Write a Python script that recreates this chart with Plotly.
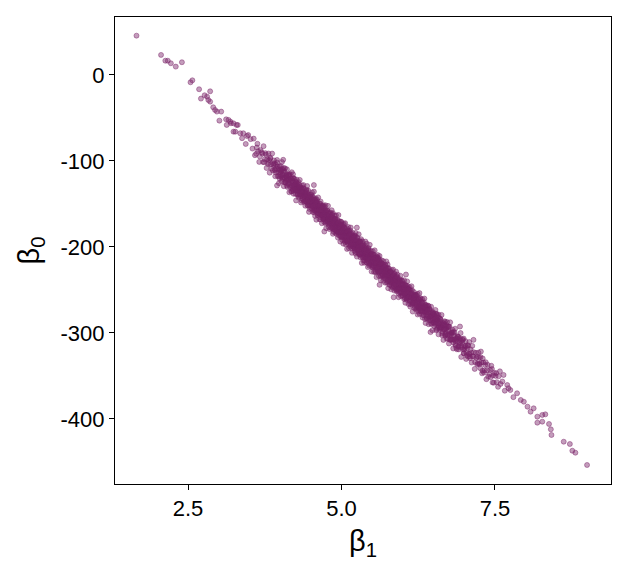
import plotly.graph_objects as go

# posterior draws (beta1 = slope, beta0 = intercept)
beta1 = [
    # upper tail
    1.66, 2.06, 2.13, 2.17, 2.22, 2.30, 2.40, 2.54, 2.57, 2.68, 2.71, 2.77, 2.81, 2.83, 2.86, 2.86, 2.91, 2.94, 2.97,
    3.01, 3.04, 3.12, 3.13, 3.16, 3.19, 3.20, 3.24, 3.24, 3.27, 3.29, 3.31, 3.35, 3.38, 3.40, 3.44, 3.46, 3.48,
    # body
    3.52, 3.55, 3.57, 3.59,
    3.61, 3.63, 3.64, 3.66, 3.68,
    3.70, 3.72, 3.73, 3.75, 3.76, 3.78, 3.79,
    3.80, 3.81, 3.82, 3.83, 3.84, 3.85, 3.87, 3.88, 3.89,
    3.90, 3.91, 3.92, 3.93, 3.94, 3.95, 3.96, 3.97, 3.98, 3.99,
    4.00, 4.01, 4.02, 4.02, 4.03, 4.04, 4.05, 4.06, 4.07, 4.07, 4.08, 4.09,
    4.10, 4.11, 4.11, 4.12, 4.13, 4.14, 4.15, 4.15, 4.16, 4.17, 4.18, 4.19, 4.19,
    4.20, 4.21, 4.21, 4.22, 4.23, 4.23, 4.24, 4.25, 4.26, 4.26, 4.27, 4.28, 4.28, 4.29,
    4.30, 4.30, 4.31, 4.32, 4.32, 4.33, 4.34, 4.34, 4.35, 4.36, 4.36, 4.37, 4.38, 4.39, 4.39,
    4.40, 4.41, 4.41, 4.42, 4.43, 4.43, 4.44, 4.45, 4.45, 4.46, 4.46, 4.47, 4.48, 4.48, 4.49, 4.49,
    4.50, 4.50, 4.51, 4.52, 4.52, 4.53, 4.53, 4.54, 4.55, 4.55, 4.56, 4.57, 4.57, 4.58, 4.58, 4.59, 4.59,
    4.60, 4.60, 4.61, 4.61, 4.62, 4.63, 4.63, 4.64, 4.64, 4.65, 4.66, 4.66, 4.67, 4.67, 4.68, 4.68, 4.69, 4.69,
    4.70, 4.70, 4.71, 4.71, 4.72, 4.73, 4.73, 4.74, 4.74, 4.75, 4.75, 4.76, 4.77, 4.77, 4.78, 4.78, 4.79, 4.79,
    4.80, 4.80, 4.81, 4.81, 4.82, 4.82, 4.83, 4.84, 4.84, 4.85, 4.85, 4.86, 4.86, 4.87, 4.87, 4.88, 4.88, 4.89, 4.89,
    4.90, 4.90, 4.91, 4.91, 4.92, 4.93, 4.93, 4.94, 4.94, 4.95, 4.95, 4.96, 4.96, 4.97, 4.97, 4.98, 4.98, 4.99, 4.99,
    5.00, 5.00, 5.01, 5.01, 5.02, 5.02, 5.03, 5.03, 5.04, 5.04, 5.05, 5.05, 5.06, 5.06, 5.07, 5.07, 5.08, 5.08, 5.09, 5.09,
    5.10, 5.10, 5.11, 5.11, 5.12, 5.12, 5.13, 5.13, 5.14, 5.14, 5.15, 5.15, 5.16, 5.16, 5.17, 5.17, 5.18, 5.18, 5.19, 5.19,
    5.20, 5.20, 5.21, 5.21, 5.22, 5.22, 5.23, 5.23, 5.24, 5.24, 5.25, 5.25, 5.26, 5.26, 5.27, 5.27, 5.28, 5.28, 5.29, 5.29,
    5.30, 5.30, 5.31, 5.31, 5.32, 5.32, 5.33, 5.33, 5.34, 5.34, 5.35, 5.35, 5.36, 5.36, 5.37, 5.37, 5.38, 5.38, 5.39, 5.39,
    5.40, 5.40, 5.41, 5.41, 5.42, 5.42, 5.43, 5.43, 5.44, 5.44, 5.45, 5.45, 5.46, 5.46, 5.47, 5.47, 5.48, 5.48, 5.49, 5.49,
    5.50, 5.50, 5.51, 5.51, 5.52, 5.52, 5.53, 5.53, 5.54, 5.54, 5.55, 5.55, 5.56, 5.56, 5.57, 5.57, 5.58, 5.58, 5.59, 5.59,
    5.60, 5.60, 5.61, 5.61, 5.62, 5.62, 5.63, 5.63, 5.64, 5.64, 5.65, 5.65, 5.66, 5.66, 5.67, 5.67, 5.68, 5.68, 5.69,
    5.70, 5.70, 5.71, 5.71, 5.72, 5.72, 5.73, 5.73, 5.74, 5.74, 5.75, 5.75, 5.76, 5.76, 5.77, 5.77, 5.78, 5.78, 5.79,
    5.80, 5.80, 5.81, 5.81, 5.82, 5.83, 5.83, 5.84, 5.84, 5.85, 5.85, 5.86, 5.86, 5.87, 5.87, 5.88, 5.89, 5.89,
    5.90, 5.90, 5.91, 5.92, 5.92, 5.93, 5.93, 5.94, 5.95, 5.95, 5.96, 5.96, 5.97, 5.98, 5.98, 5.99, 5.99,
    6.00, 6.00, 6.01, 6.02, 6.02, 6.03, 6.03, 6.04, 6.05, 6.05, 6.06, 6.06, 6.07, 6.08, 6.08, 6.09, 6.09,
    6.10, 6.11, 6.11, 6.12, 6.13, 6.13, 6.14, 6.14, 6.15, 6.16, 6.16, 6.17, 6.18, 6.18, 6.19, 6.19,
    6.20, 6.21, 6.21, 6.22, 6.23, 6.24, 6.24, 6.25, 6.25, 6.26, 6.27, 6.27, 6.28, 6.29, 6.29,
    6.30, 6.31, 6.32, 6.32, 6.33, 6.34, 6.35, 6.35, 6.36, 6.37, 6.37, 6.38, 6.39, 6.39,
    6.40, 6.41, 6.42, 6.42, 6.43, 6.44, 6.45, 6.46, 6.46, 6.47, 6.48, 6.49, 6.49,
    6.50, 6.51, 6.52, 6.53, 6.53, 6.54, 6.55, 6.56, 6.57, 6.58, 6.58, 6.59,
    6.60, 6.61, 6.62, 6.63, 6.64, 6.65, 6.66, 6.67, 6.68, 6.69, 6.69,
    6.70, 6.71, 6.72, 6.73, 6.74, 6.75, 6.76, 6.77, 6.78, 6.79,
    6.80, 6.81, 6.82, 6.83, 6.85, 6.86, 6.87, 6.88, 6.89,
    6.90, 6.91, 6.93, 6.94, 6.95, 6.97, 6.98, 6.99,
    7.00, 7.02, 7.03, 7.05, 7.06, 7.08, 7.09,
    7.10, 7.12, 7.13, 7.15, 7.17, 7.19,
    7.21, 7.23, 7.25, 7.27, 7.29,
    7.30, 7.32, 7.34, 7.36, 7.38,
    7.41, 7.44, 7.46, 7.49,
    7.52, 7.55, 7.58,
    # lower tail
    7.64, 7.70, 7.75, 7.86, 7.92, 7.97, 8.03, 8.08, 8.13, 8.19, 8.27, 8.32, 8.19, 8.27, 8.38, 8.41, 8.42,
    8.62, 8.72, 8.76, 8.81, 9.00,
    # strays at the band edges
    3.95, 4.05, 4.55, 4.72, 5.25, 5.62, 5.85, 6.05, 6.45, 6.93, 7.15,
]

beta0 = [
    # upper tail
    45.7, 23.3, 16.6, 16.6, 13.6, 9.7, 14.8, -8.5, -6.2, -16.6, -27.5, -23.6, -25.2, -29.1, -19.0, -31.0, -37.6, -40.7, -42.6,
    -53.1, -42.6, -51.6, -58.1, -52.3, -54.3, -56.2, -56.2, -65.9, -65.9, -58.1, -58.1, -67.8, -73.5, -67.8, -80.2, -71.0, -69.8,
    # body
    -74.6, -85.6, -74.0, -93.3,
    -91.7, -80.0, -88.7, -101.1, -87.4,
    -89.8, -101.2, -82.8, -98.2, -90.9, -108.2, -97.9,
    -103.6, -91.3, -99.0, -113.6, -97.3, -104.0, -91.4, -111.0, -102.7,
    -99.4, -110.1, -117.8, -104.4, -109.1, -98.8, -117.5, -109.2, -125.8, -106.5,
    -115.2, -105.9, -123.6, -111.6, -101.2, -120.9, -115.6, -129.3, -112.0, -119.0, -108.6, -125.3,
    -116.0, -128.7, -109.7, -121.4, -126.0, -115.7, -136.4, -121.4, -115.1, -127.8, -120.4, -135.1, -113.1,
    -132.8, -124.5, -115.5, -138.2, -127.8, -120.8, -132.5, -124.2, -145.9, -130.9, -121.6, -139.2, -128.2, -133.9,
    -131.6, -142.6, -127.3, -139.0, -122.0, -135.6, -148.3, -131.3, -139.0, -128.7, -143.7, -135.4, -128.0, -147.7, -138.7,
    -143.4, -135.1, -152.1, -140.8, -133.4, -147.4, -129.1, -144.8, -151.8, -140.5, -134.5, -159.2, -143.8, -151.8, -139.5, -148.5,
    -142.2, -154.2, -147.9, -136.6, -152.6, -141.2, -159.2, -146.9, -151.6, -135.6, -157.3, -146.0, -164.0, -151.6, -143.6, -156.3, -168.3,
    -155.0, -145.0, -162.7, -150.7, -142.4, -161.0, -154.0, -167.7, -149.7, -157.4, -161.1, -147.1, -165.8, -153.8, -158.4, -172.4, -152.1, -164.1,
    -154.8, -166.8, -161.5, -151.5, -171.2, -159.8, -164.8, -151.5, -170.5, -159.2, -178.2, -163.9, -157.6, -169.6, -167.2, -152.2, -176.9, -163.9,
    -171.6, -160.6, -166.3, -179.3, -160.0, -171.0, -165.6, -178.3, -157.3, -171.0, -176.0, -160.7, -184.7, -169.4, -179.4, -167.0, -174.0, -163.7, -176.7,
    -171.4, -183.4, -163.1, -176.1, -181.8, -168.4, -175.4, -189.1, -172.1, -181.8, -162.8, -176.5, -186.5, -170.2, -183.2, -193.8, -173.8, -180.5, -187.5,
    -183.2, -171.2, -191.9, -177.9, -175.6, -187.6, -183.2, -196.2, -172.9, -184.9, -181.6, -192.6, -172.3, -189.3, -180.0, -197.0, -184.6, -192.6, -178.3, -202.3,
    -183.0, -195.0, -187.7, -176.7, -192.4, -201.4, -182.0, -191.0, -186.7, -199.7, -177.4, -196.4, -192.1, -185.1, -206.8, -189.8, -199.4, -183.4, -196.1, -188.1,
    -200.8, -191.8, -186.5, -204.5, -187.2, -200.2, -183.8, -207.8, -198.5, -191.5, -196.2, -211.2, -188.9, -201.9, -195.6, -206.6, -185.2, -200.2, -208.9, -193.9,
    -193.6, -203.6, -212.3, -197.3, -191.0, -209.0, -203.6, -218.6, -201.3, -193.3, -212.0, -203.0, -209.7, -196.7, -218.4, -200.4, -206.0, -216.0, -193.7, -210.7,
    -209.4, -201.4, -218.1, -196.1, -205.8, -214.8, -223.4, -208.4, -201.1, -214.1, -205.8, -221.8, -211.5, -197.5, -219.7, -209.7, -217.8, -204.8, -228.5, -214.5,
    -211.2, -223.2, -204.9, -215.9, -222.6, -208.6, -219.2, -229.2, -203.9, -214.9, -223.6, -212.6, -229.3, -218.3, -211.0, -235.0, -215.6, -223.6, -209.3, -228.3,
    -225.0, -213.0, -220.7, -233.7, -210.4, -228.4, -217.4, -224.4, -238.7, -220.7, -215.4, -233.4, -226.1, -219.1, -232.8, -223.8, -239.4, -216.4, -230.1,
    -222.8, -232.8, -241.5, -227.5, -222.2, -237.2, -216.8, -231.8, -228.5, -241.5, -234.2, -220.2, -247.9, -227.9, -233.6, -224.6, -240.2, -233.2, -243.9,
    -240.6, -228.6, -235.3, -249.3, -227.0, -239.6, -233.6, -247.3, -226.3, -239.0, -245.0, -231.7, -250.7, -237.4, -243.4, -235.0, -249.7, -228.7,
    -240.4, -251.4, -232.1, -247.8, -237.8, -258.4, -244.4, -237.1, -252.8, -242.8, -233.5, -248.5, -257.2, -242.8, -252.8, -239.5, -249.5,
    -256.2, -244.2, -249.9, -238.6, -260.6, -248.2, -255.2, -264.9, -244.6, -253.6, -247.3, -261.3, -240.0, -257.6, -252.6, -266.3, -248.3,
    -252.0, -262.7, -246.7, -269.4, -257.0, -251.0, -261.7, -245.7, -267.4, -260.1, -275.1, -255.8, -252.4, -265.4, -260.1, -271.1,
    -263.8, -255.5, -272.5, -261.2, -269.8, -254.5, -278.5, -264.2, -269.2, -260.9, -277.6, -253.6, -268.2, -274.9, -259.9,
    -263.6, -274.3, -261.0, -282.0, -270.6, -279.3, -260.0, -275.0, -269.7, -288.4, -267.4, -276.0, -283.7, -272.7,
    -279.4, -268.1, -289.8, -276.4, -272.1, -285.1, -279.8, -269.5, -289.5, -277.2, -296.8, -275.5, -284.5,
    -278.2, -291.9, -283.6, -273.2, -290.2, -296.9, -277.9, -288.3, -285.0, -301.6, -278.6, -293.3,
    -296.0, -283.7, -293.4, -279.0, -302.7, -290.4, -308.1, -288.8, -295.4, -287.1, -303.1,
    -294.8, -306.5, -287.2, -302.8, -292.5, -312.2, -300.9, -287.6, -308.2, -298.9,
    -307.6, -296.3, -318.0, -302.6, -295.0, -314.7, -307.4, -319.0, -303.7,
    -304.4, -319.1, -312.4, -300.1, -327.8, -311.2, -318.8, -306.5,
    -319.2, -309.6, -330.2, -317.6, -327.3, -310.6, -327.3,
    -319.0, -334.4, -315.0, -327.4, -341.8, -323.1,
    -336.5, -322.8, -335.2, -321.6, -346.9,
    -329.6, -346.0, -337.3, -353.7, -337.0,
    -348.1, -338.1, -357.5, -346.5,
    -346.6, -362.6, -344.6,
    # lower tail
    -348.8, -360.5, -366.3, -370.1, -377.9, -379.9, -385.7, -391.5, -387.6, -397.3, -395.3, -394.6, -404.3, -403.1, -405.8, -412.0, -418.6,
    -426.4, -429.1, -436.9, -439.2, -453.5,
    # strays at the band edges
    -128.5, -98.6, -128.0, -182.0, -177.5, -244.0, -258.5, -232.0, -299.0, -292.5, -308.0,
]

# further draws in the dense core of the band
beta1_core = [
    3.91, 3.93, 3.95, 3.97, 3.99,
    4.00, 4.01, 4.03, 4.04, 4.06, 4.07, 4.09,
    4.10, 4.11, 4.12, 4.14, 4.15, 4.16, 4.18, 4.19,
    4.20, 4.21, 4.22, 4.23, 4.25, 4.26, 4.27, 4.28, 4.29,
    4.30, 4.31, 4.32, 4.33, 4.34, 4.35, 4.36, 4.37, 4.38, 4.39,
    4.40, 4.41, 4.42, 4.43, 4.44, 4.45, 4.45, 4.46, 4.47, 4.48, 4.49,
    4.50, 4.51, 4.52, 4.53, 4.53, 4.54, 4.55, 4.56, 4.57, 4.57, 4.58, 4.59,
    4.60, 4.61, 4.61, 4.62, 4.63, 4.64, 4.65, 4.66, 4.67, 4.68, 4.68, 4.69,
    4.70, 4.71, 4.72, 4.72, 4.73, 4.74, 4.75, 4.75, 4.76, 4.77, 4.78, 4.79, 4.79,
    4.80, 4.81, 4.82, 4.82, 4.83, 4.84, 4.85, 4.85, 4.86, 4.87, 4.88, 4.89, 4.89,
    4.90, 4.91, 4.92, 4.92, 4.93, 4.94, 4.95, 4.95, 4.96, 4.97, 4.98, 4.99, 4.99,
    5.00, 5.01, 5.01, 5.02, 5.03, 5.03, 5.04, 5.05, 5.06, 5.06, 5.07, 5.08, 5.09, 5.09,
    5.10, 5.11, 5.11, 5.12, 5.13, 5.13, 5.14, 5.15, 5.16, 5.16, 5.17, 5.18, 5.19, 5.19,
    5.20, 5.21, 5.21, 5.22, 5.23, 5.23, 5.24, 5.25, 5.26, 5.26, 5.27, 5.28, 5.29, 5.29,
    5.30, 5.31, 5.31, 5.32, 5.33, 5.33, 5.34, 5.35, 5.36, 5.36, 5.37, 5.38, 5.39, 5.39,
    5.40, 5.41, 5.41, 5.42, 5.43, 5.43, 5.44, 5.45, 5.46, 5.46, 5.47, 5.48, 5.49, 5.49,
    5.50, 5.51, 5.51, 5.52, 5.53, 5.53, 5.54, 5.55, 5.56, 5.56, 5.57, 5.58, 5.59, 5.59,
    5.60, 5.61, 5.61, 5.62, 5.63, 5.64, 5.65, 5.65, 5.66, 5.67, 5.68, 5.69, 5.69,
    5.70, 5.71, 5.71, 5.72, 5.73, 5.74, 5.75, 5.75, 5.76, 5.77, 5.78, 5.79, 5.79,
    5.80, 5.81, 5.81, 5.82, 5.83, 5.84, 5.85, 5.85, 5.86, 5.87, 5.88, 5.89, 5.89,
    5.90, 5.91, 5.92, 5.93, 5.93, 5.94, 5.95, 5.96, 5.97, 5.98, 5.98, 5.99,
    6.00, 6.01, 6.02, 6.03, 6.03, 6.04, 6.05, 6.06, 6.07, 6.08, 6.08, 6.09,
    6.10, 6.11, 6.12, 6.13, 6.14, 6.15, 6.15, 6.16, 6.17, 6.18, 6.19,
    6.20, 6.21, 6.22, 6.23, 6.24, 6.25, 6.25, 6.26, 6.27, 6.28, 6.29,
    6.30, 6.31, 6.32, 6.33, 6.34, 6.35, 6.36, 6.37, 6.38, 6.39,
    6.40, 6.41, 6.42, 6.44, 6.45, 6.46, 6.47, 6.48, 6.49,
    6.50, 6.51, 6.53, 6.54, 6.55, 6.56, 6.57, 6.58, 6.59,
    6.60, 6.61, 6.63, 6.64, 6.65, 6.67, 6.68, 6.69,
    6.70, 6.72, 6.73, 6.75, 6.76, 6.78, 6.79,
    6.80, 6.82, 6.84, 6.85, 6.87, 6.89,
    6.91, 6.93, 6.95, 6.97, 6.99,
    7.01, 7.04, 7.06, 7.08,
]

beta0_core = [
    -103.1, -113.4, -101.8, -113.2, -120.5,
    -110.2, -117.9, -109.2, -116.9, -108.3, -125.0, -117.3,
    -123.0, -115.7, -130.4, -121.7, -116.4, -130.1, -135.4, -126.1,
    -122.8, -132.5, -120.2, -130.8, -138.2, -127.9, -135.6, -126.2, -133.9,
    -124.6, -141.3, -133.0, -138.6, -131.3, -146.0, -136.7, -131.4, -145.0, -139.7,
    -140.4, -137.1, -146.8, -134.4, -145.1, -151.8, -140.8, -148.5, -139.2, -155.8, -144.5,
    -148.2, -138.9, -155.6, -147.2, -152.2, -144.9, -159.6, -150.3, -145.0, -158.0, -148.6, -157.3,
    -148.0, -156.7, -162.7, -152.4, -156.0, -161.7, -149.4, -168.1, -154.8, -162.4, -152.4, -161.1,
    -158.8, -167.5, -153.2, -165.2, -157.8, -172.5, -163.2, -158.2, -168.9, -157.6, -167.2, -173.9, -163.9,
    -172.6, -164.3, -170.0, -162.0, -177.6, -168.3, -162.0, -174.0, -166.7, -182.4, -173.0, -167.7, -179.7,
    -167.4, -178.1, -174.8, -184.8, -172.4, -183.1, -169.8, -178.8, -182.5, -174.2, -187.8, -178.5, -170.5,
    -181.2, -175.9, -188.9, -179.6, -186.2, -174.2, -188.9, -183.6, -178.3, -194.3, -182.0, -188.6, -193.3, -182.3,
    -192.0, -180.7, -187.7, -197.4, -185.0, -191.0, -180.7, -197.4, -189.1, -195.1, -201.8, -187.4, -194.1, -187.1,
    -191.8, -201.5, -188.5, -196.2, -205.8, -192.8, -199.5, -189.2, -203.9, -196.9, -193.6, -207.2, -199.9, -203.9,
    -208.6, -200.3, -193.3, -207.0, -198.6, -204.6, -212.3, -199.0, -205.7, -215.7, -203.4, -199.0, -212.7, -203.7,
    -203.4, -212.1, -218.1, -202.8, -209.4, -216.4, -202.1, -213.8, -208.5, -220.5, -213.2, -207.8, -218.5, -212.5,
    -217.2, -209.9, -223.9, -213.6, -222.2, -209.2, -217.9, -228.6, -214.3, -222.3, -213.0, -226.6, -219.3, -212.3,
    -218.0, -229.7, -220.7, -215.4, -227.0, -233.7, -220.4, -225.4, -231.1, -219.8, -228.4, -225.1, -236.1,
    -234.8, -226.5, -220.5, -232.2, -224.8, -231.5, -240.2, -228.2, -224.9, -237.6, -244.2, -229.9, -235.9,
    -234.6, -241.3, -229.3, -246.0, -234.6, -232.3, -242.0, -246.0, -230.7, -240.4, -237.0, -247.7, -239.7,
    -245.4, -235.1, -249.8, -242.4, -254.4, -240.1, -246.8, -239.5, -252.2, -247.8, -238.8, -256.5,
    -243.2, -253.9, -247.6, -259.2, -243.2, -253.9, -248.6, -260.3, -253.0, -245.6, -259.6, -253.3,
    -258.0, -249.7, -266.4, -254.0, -258.7, -264.4, -250.4, -266.1, -257.8, -262.4, -256.1,
    -257.8, -266.5, -256.2, -271.8, -263.5, -275.2, -260.2, -266.9, -271.6, -259.2, -269.9,
    -273.6, -264.3, -279.0, -270.6, -264.3, -275.0, -283.7, -270.4, -275.0, -268.7,
    -273.4, -283.1, -268.8, -281.1, -274.8, -288.5, -280.2, -285.8, -276.5,
    -288.2, -279.9, -286.2, -277.9, -295.6, -285.3, -282.0, -291.6, -289.3,
    -283.0, -294.7, -290.0, -300.7, -288.4, -295.8, -286.4, -302.1,
    -299.8, -292.2, -306.8, -298.2, -292.9, -307.2, -301.9,
    -299.6, -311.0, -299.3, -309.0, -317.4, -306.7,
    -316.1, -306.4, -314.8, -307.2, -323.5,
    -314.9, -325.9, -314.3, -324.6,
]

# tight draws along the centre line of the band
beta1_centre = [
    4.005, 4.025, 4.035, 4.055, 4.075, 4.085,
    4.105, 4.115, 4.135, 4.145, 4.165, 4.175, 4.195,
    4.205, 4.215, 4.225, 4.245, 4.255, 4.265, 4.285, 4.295,
    4.305, 4.315, 4.325, 4.335, 4.345, 4.355, 4.375, 4.385, 4.395,
    4.405, 4.415, 4.425, 4.435, 4.455, 4.465, 4.475, 4.485, 4.495,
    4.505, 4.515, 4.525, 4.535, 4.545, 4.555, 4.565, 4.575, 4.585, 4.595,
    4.605, 4.615, 4.625, 4.635, 4.645, 4.655, 4.665, 4.675, 4.685, 4.695,
    4.705, 4.715, 4.725, 4.735, 4.745, 4.755, 4.765, 4.775, 4.785, 4.795,
    4.805, 4.815, 4.825, 4.835, 4.845, 4.855, 4.865, 4.875, 4.885, 4.895,
    4.905, 4.915, 4.925, 4.935, 4.945, 4.955, 4.965, 4.975, 4.985, 4.995,
    5.005, 5.015, 5.025, 5.035, 5.045, 5.055, 5.065, 5.075, 5.085, 5.095,
    5.105, 5.115, 5.125, 5.135, 5.145, 5.155, 5.165, 5.175, 5.185, 5.195,
    5.205, 5.215, 5.225, 5.235, 5.245, 5.255, 5.265, 5.275, 5.285, 5.295,
    5.305, 5.315, 5.325, 5.335, 5.345, 5.355, 5.365, 5.375, 5.385, 5.395,
    5.405, 5.415, 5.425, 5.435, 5.445, 5.455, 5.465, 5.475, 5.485, 5.495,
    5.505, 5.515, 5.525, 5.535, 5.545, 5.555, 5.565, 5.575, 5.585, 5.595,
    5.605, 5.615, 5.625, 5.635, 5.645, 5.655, 5.665, 5.675, 5.685, 5.695,
    5.705, 5.715, 5.725, 5.735, 5.745, 5.755, 5.765, 5.775, 5.785, 5.795,
    5.805, 5.815, 5.825, 5.835, 5.845, 5.855, 5.865, 5.875, 5.885, 5.895,
    5.905, 5.915, 5.925, 5.935, 5.945, 5.955, 5.965, 5.975, 5.985, 5.995,
    6.005, 6.015, 6.025, 6.035, 6.045, 6.055, 6.065, 6.075, 6.085, 6.095,
    6.105, 6.115, 6.125, 6.135, 6.145, 6.165, 6.175, 6.185, 6.195,
    6.205, 6.215, 6.225, 6.245, 6.255, 6.265, 6.275, 6.285, 6.295,
    6.305, 6.315, 6.325, 6.335, 6.355, 6.365, 6.375, 6.385, 6.395,
    6.405, 6.415, 6.435, 6.445, 6.455, 6.475, 6.485, 6.495,
    6.505, 6.525, 6.535, 6.545, 6.555, 6.565, 6.585, 6.595,
    6.605, 6.615, 6.625, 6.645, 6.655, 6.675, 6.685, 6.695,
    6.705, 6.715, 6.735, 6.745, 6.765, 6.775, 6.795,
    6.805, 6.825, 6.835, 6.855, 6.865, 6.885, 6.895,
    6.905, 6.925, 6.945, 6.955, 6.975, 6.995,
    7.005, 7.025, 7.035, 7.055, 7.075, 7.095,
    7.115, 7.135, 7.155, 7.175, 7.195,
    7.215, 7.245, 7.265, 7.295,
]

beta0_centre = [
    -113.2, -111.6, -119.2, -110.6, -120.0, -124.6,
    -118.0, -121.7, -117.0, -127.7, -123.1, -120.8, -129.1,
    -119.8, -134.5, -128.2, -126.5, -134.2, -124.9, -134.2, -138.9,
    -131.6, -135.3, -130.0, -140.6, -135.3, -133.0, -141.4, -132.0, -146.7,
    -140.4, -138.1, -145.8, -136.4, -145.8, -150.5, -143.2, -146.8, -141.5,
    -152.2, -146.9, -144.6, -152.2, -142.9, -157.6, -151.3, -149.0, -156.6, -147.3,
    -156.0, -160.7, -153.4, -157.0, -151.7, -162.4, -157.1, -154.8, -162.4, -153.1,
    -167.8, -161.5, -159.2, -166.8, -157.5, -166.2, -170.9, -163.6, -167.2, -161.9,
    -172.6, -167.3, -165.0, -172.6, -163.3, -178.0, -171.7, -169.4, -177.0, -167.7,
    -176.4, -181.1, -173.8, -177.4, -172.1, -182.8, -177.5, -175.2, -182.8, -173.5,
    -188.2, -181.9, -179.6, -187.2, -177.9, -186.6, -191.3, -184.0, -187.6, -182.3,
    -193.0, -187.7, -185.4, -193.0, -183.7, -198.4, -192.1, -189.8, -197.4, -188.1,
    -196.8, -201.5, -194.2, -197.8, -192.5, -203.2, -197.9, -195.6, -203.2, -193.9,
    -208.6, -202.3, -200.0, -207.6, -198.3, -207.0, -211.7, -204.4, -208.0, -202.7,
    -213.4, -208.1, -205.8, -213.4, -204.1, -218.8, -212.5, -210.2, -217.8, -208.5,
    -217.2, -221.9, -214.6, -218.2, -212.9, -223.6, -218.3, -216.0, -223.6, -214.3,
    -229.0, -222.7, -220.4, -228.0, -218.7, -227.4, -232.1, -224.8, -228.4, -223.1,
    -233.8, -228.5, -226.2, -233.8, -224.5, -239.2, -232.9, -230.6, -238.2, -228.9,
    -237.6, -242.3, -235.0, -238.6, -233.3, -244.0, -238.7, -236.4, -244.0, -234.7,
    -249.4, -243.1, -240.8, -248.4, -239.1, -247.8, -252.5, -245.2, -248.8, -243.5,
    -254.2, -248.9, -246.6, -254.2, -244.9, -259.6, -253.3, -251.0, -258.6, -249.3,
    -258.0, -262.7, -255.4, -259.0, -253.7, -265.1, -259.8, -257.4, -265.1,
    -255.8, -270.5, -264.2, -262.5, -270.2, -260.9, -269.6, -274.2, -266.9,
    -270.6, -265.3, -276.0, -270.6, -269.0, -276.7, -267.4, -282.0, -275.7,
    -273.4, -281.1, -272.4, -281.1, -285.8, -279.2, -282.8, -277.5,
    -288.2, -283.6, -281.2, -288.9, -279.6, -294.3, -288.6, -286.3,
    -294.0, -284.7, -293.4, -298.7, -291.4, -295.8, -290.4, -301.1,
    -295.8, -293.5, -301.8, -292.5, -307.9, -301.6, -299.9,
    -307.6, -299.0, -307.6, -313.0, -305.7, -310.0, -304.7,
    -315.4, -310.8, -309.1, -316.8, -308.2, -323.5,
    -317.2, -315.6, -323.2, -314.6, -324.0, -329.3,
    -322.7, -327.0, -322.4, -333.8, -329.1,
    -327.5, -336.5, -328.0, -343.9,
]

# extra draws where the band thins out at both ends
beta1_ends = [
    3.62, 3.67, 3.71, 3.74, 3.77, 3.81, 3.84, 3.86, 3.89, 3.92, 3.96, 3.98,
    7.22, 7.24, 7.26, 7.28, 7.31, 7.33, 7.35, 7.37, 7.39, 7.42, 7.43, 7.45, 7.47, 7.48,
    7.51, 7.53, 7.56, 7.59, 7.62, 7.66, 7.72, 7.80,
]

beta0_ends = [
    -84.4, -94.8, -91.5, -101.5, -92.6, -102.3, -96.3, -108.7, -104.7, -110.8, -106.5, -117.8,
    -335.2, -328.5, -340.9, -334.2, -334.3, -343.6, -334.0, -343.4, -350.7, -342.8, -351.4, -341.8, -349.2, -357.8,
    -349.9, -357.2, -350.3, -359.3, -356.4, -367.1, -364.2, -374.6,
]

assert len(beta1) == len(beta0), (len(beta1), len(beta0))
assert len(beta1_core) == len(beta0_core), (len(beta1_core), len(beta0_core))
assert len(beta1_centre) == len(beta0_centre), (len(beta1_centre), len(beta0_centre))
assert len(beta1_ends) == len(beta0_ends), (len(beta1_ends), len(beta0_ends))

x_ticks = [2.5, 5.0, 7.5]
x_labels = ["2.5", "5.0", "7.5"]
y_ticks = [0, -100, -200, -300, -400]
y_labels = ["0", "-100", "-200", "-300", "-400"]

point_color = "rgba(123,36,104,0.45)"

fig = go.Figure()
fig.add_trace(go.Scatter(
    x=beta1 + beta1_core + beta1_centre + beta1_ends,
    y=beta0 + beta0_core + beta0_centre + beta0_ends,
    mode="markers",
    marker=dict(size=5, color=point_color, line=dict(color=point_color, width=1)),
    showlegend=False,
    hoverinfo="skip",
))

axis_style = dict(
    showline=True, mirror=True, linecolor="black", linewidth=1,
    ticks="outside", ticklen=5, tickwidth=1, tickcolor="black",
    showgrid=False, zeroline=False,
    tickfont=dict(family="Liberation Sans, Arial, sans-serif", size=22, color="black"),
)

# the page body adds 8px around the plot, so margins are set 8px short
fig.update_layout(
    width=624, height=576,
    margin=dict(l=107, r=21, t=9, b=100),
    paper_bgcolor="white", plot_bgcolor="white",
    font=dict(family="Liberation Sans, Arial, sans-serif", color="black"),
    xaxis=dict(
        range=[1.31, 9.39], tickvals=x_ticks, ticktext=x_labels,
        title=dict(text="β<sub>1</sub>", font=dict(size=29), standoff=10),
        **axis_style,
    ),
    yaxis=dict(
        range=[-475.6, 67.4], tickvals=y_ticks, ticktext=y_labels,
        title=dict(text="β<sub>0</sub>", font=dict(size=29), standoff=12),
        **axis_style,
    ),
)

fig.write_html("out.html")
